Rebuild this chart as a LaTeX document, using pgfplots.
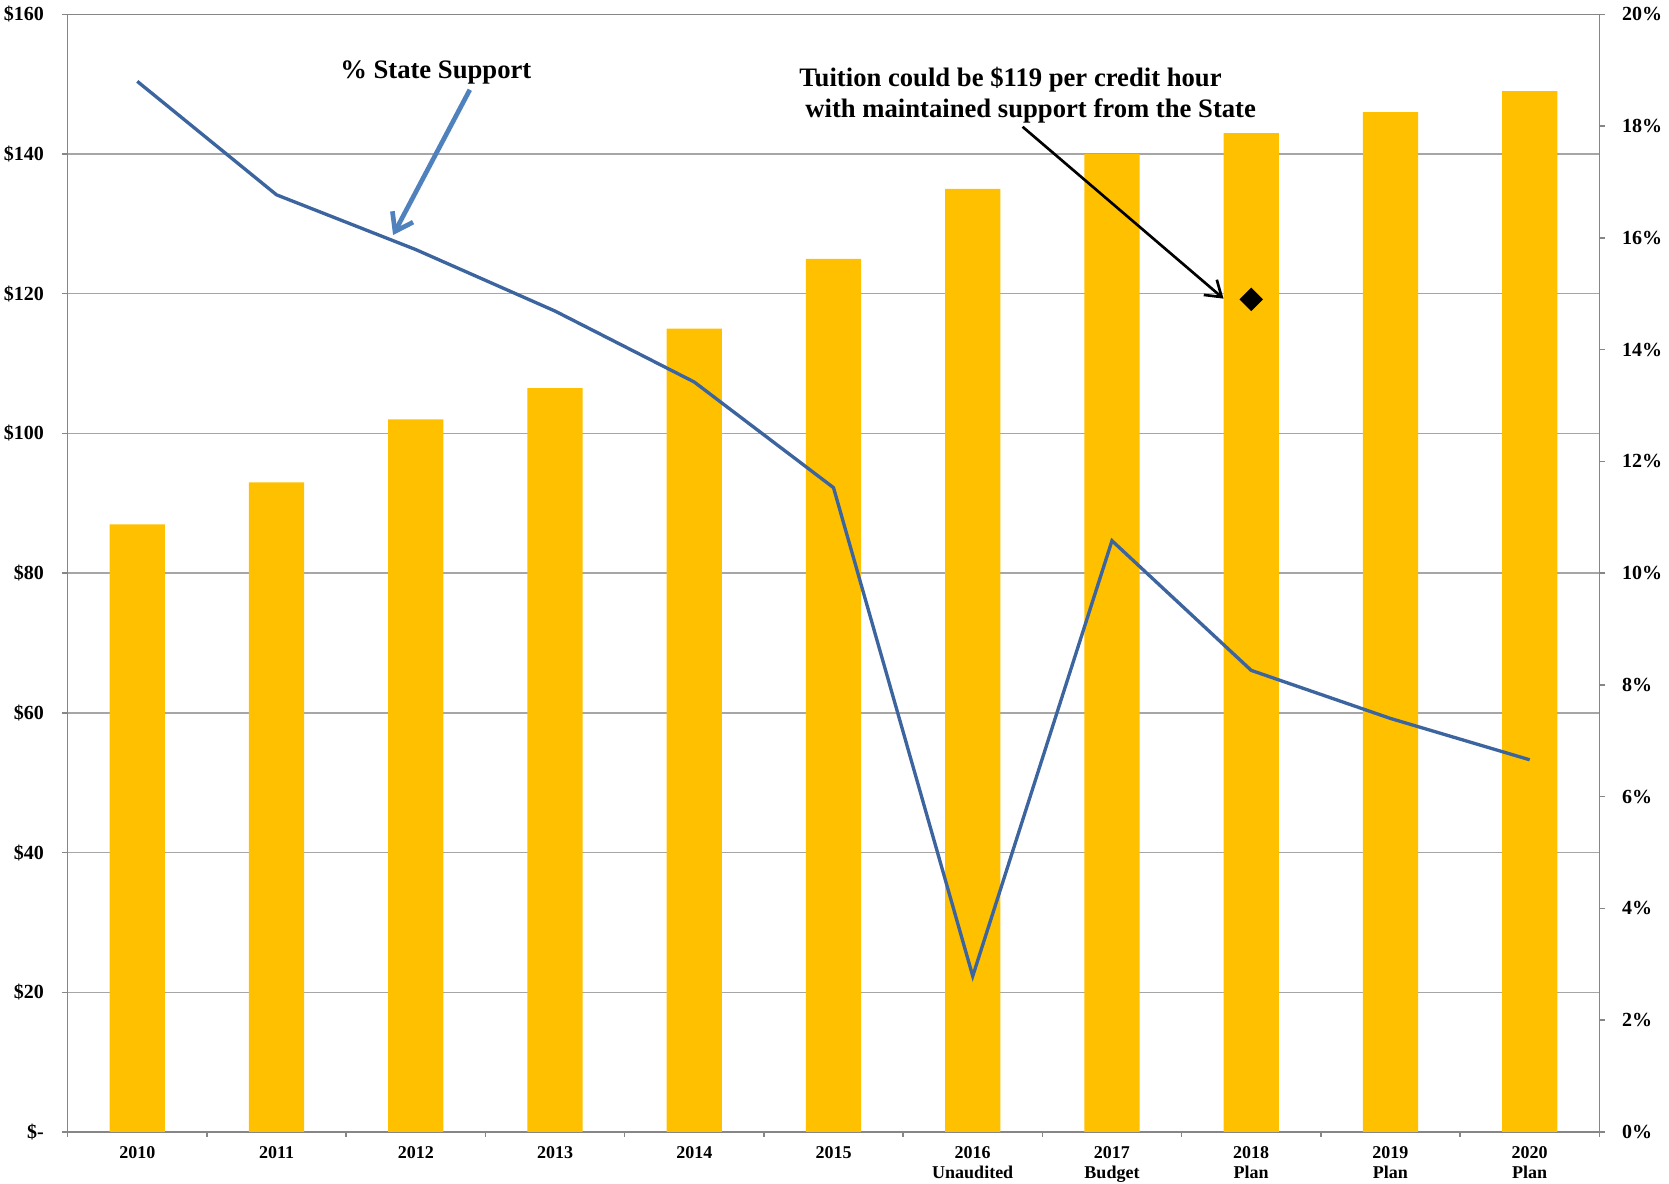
\documentclass[border=0pt]{standalone}
\usepackage{fontspec}
\setmainfont{Liberation Serif}
\usepackage{pgfplots}
\pgfplotsset{compat=1.18}
\usetikzlibrary{arrows.meta,shadows}

\definecolor{bargold}{HTML}{FFC000}
\definecolor{lineblue}{RGB}{60,100,158}
\definecolor{arrowblue}{RGB}{79,129,189}
\definecolor{gridgray}{HTML}{A6A6A6}
\definecolor{axisgray}{HTML}{868686}

% Tuition per credit hour (left axis)
\pgfplotstableread{
x  tuition
0  87
1  93
2  102
3  106.5
4  115
5  125
6  135
7  140
8  143
9  146
10 149
}\tuitiondata

% Share of revenue from the State, percent (right axis)
\pgfplotstableread{
x  support
0  18.80
1  16.77
2  15.79
3  14.69
4  13.42
5  11.53
6  2.79
7  10.58
8  8.26
9  7.40
10 6.66
}\supportdata

\begin{document}
\begin{tikzpicture}
\path[use as bounding box] (-20.3pt,-15.6pt) rectangle (480.4pt,339.6pt);

\begin{axis}[
  name=ax,
  at={(0,0)}, anchor=south west,
  scale only axis,
  width=459.5pt, height=335.3pt,
  xmin=-0.5, xmax=10.5,
  ymin=0, ymax=160,
  clip=false,
  axis line style={axisgray, line width=0.45pt},
  ymajorgrids,
  grid style={gridgray, line width=0.4pt},
  tick align=outside,
  xtick pos=bottom, ytick pos=left,
  xtick={0,...,10},
  major x tick style={draw=none},
  minor xtick={-0.5,0.5,...,10.5},
  minor tick length=1.5pt,
  minor tick style={axisgray, line width=0.45pt},
  xticklabels={2010,2011,2012,2013,2014,2015,
    {2016\\Unaudited},{2017\\Budget},{2018\\Plan},{2019\\Plan},{2020\\Plan}},
  xticklabel style={font=\bfseries\fontsize{5.4}{6}\selectfont, align=center, yshift=0.9pt},
  ytick={0,20,...,160},
  yticklabels={\$-,\$20,\$40,\$60,\$80,\$100,\$120,\$140,\$160},
  major tick length=1.8pt,
  major y tick style={axisgray, line width=0.45pt},
  yticklabel style={font=\bfseries\fontsize{6}{7}\selectfont, xshift=-1.8pt},
]
\addplot[ybar, bar width=16.6pt, fill=bargold, draw=none] table[x=x, y=tuition] {\tuitiondata};

% tuition at the maintained level of state support
\addplot[only marks, mark=square*, mark size=2.3pt, mark options={rotate=45, fill=black, draw=black}]
  coordinates {(8,119.2)};

% callouts
\node[anchor=base, inner sep=0, font=\bfseries\fontsize{8}{9}\selectfont] at (axis cs:2.144,150.8) {\% State Support};
\draw[arrowblue, line width=1.4pt, -{Straight Barb[length=5pt, width=7pt]},
      drop shadow={opacity=0.25, shadow xshift=0.6pt, shadow yshift=-0.6pt}]
  (axis cs:2.388,149.2) -- (axis cs:1.837,128.4);

\node[anchor=base west, inner sep=0, font=\bfseries\fontsize{8}{9}\selectfont] at (axis cs:4.750,149.7) {Tuition could be \$119 per credit hour};
\node[anchor=base west, inner sep=0, font=\bfseries\fontsize{8}{9}\selectfont] at (axis cs:4.793,145.3) {with maintained support from the State};
\draw[black, line width=0.8pt, -{Straight Barb[length=4.5pt, width=6pt]}]
  (axis cs:6.358,143.9) -- (axis cs:7.801,119.3);
\end{axis}

\begin{axis}[
  at={(0,0)}, anchor=south west,
  scale only axis,
  width=459.5pt, height=335.3pt,
  xmin=-0.5, xmax=10.5,
  ymin=0, ymax=20,
  axis y line*=right,
  axis x line=none,
  axis line style={axisgray, line width=0.45pt},
  tick align=outside,
  ytick={0,2,...,20},
  yticklabels={0\%,2\%,4\%,6\%,8\%,10\%,12\%,14\%,16\%,18\%,20\%},
  major tick length=1.8pt,
  major y tick style={axisgray, line width=0.45pt},
  yticklabel style={font=\bfseries\fontsize{6}{7}\selectfont, xshift=1.5pt},
]
\addplot[lineblue, line width=1pt, mark=none] table[x=x, y=support] {\supportdata};
\end{axis}
\end{tikzpicture}
\end{document}
